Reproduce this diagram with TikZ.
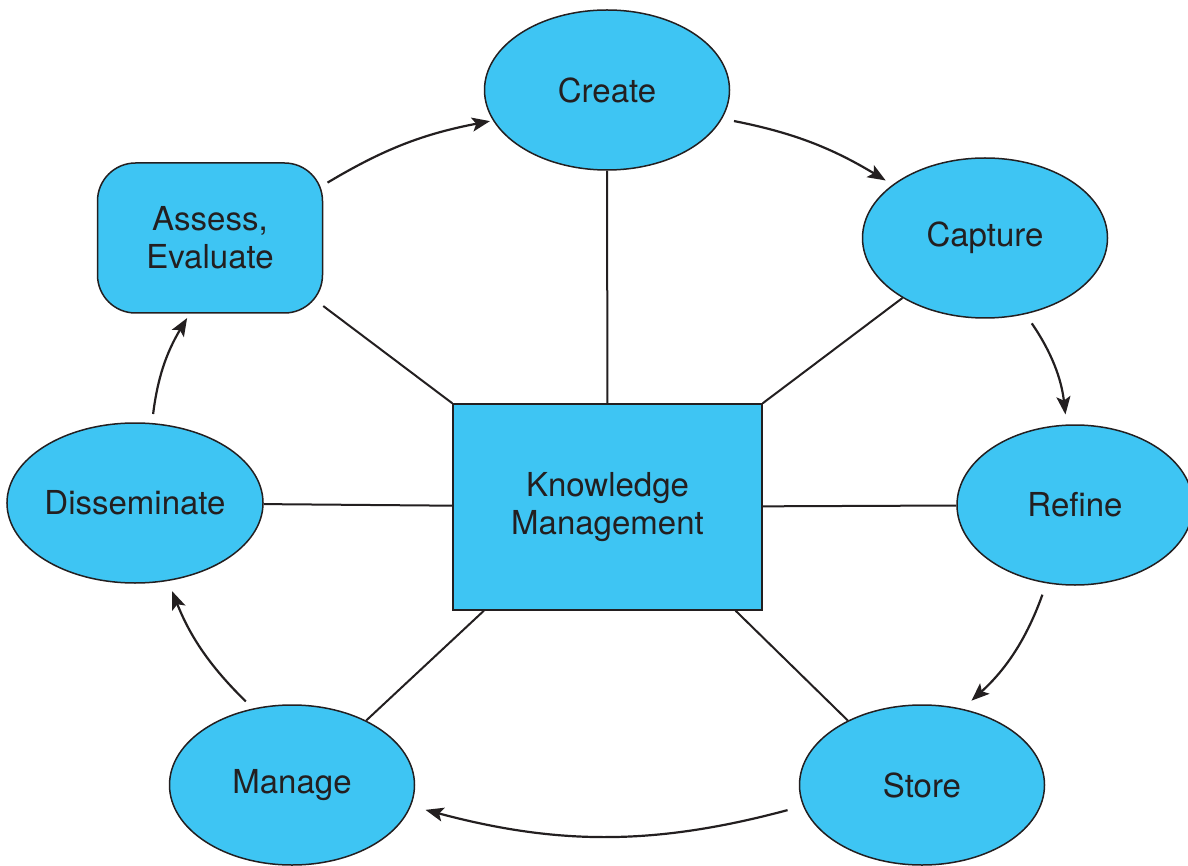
\documentclass[tikz,border=0pt]{standalone}
\usepackage{fontspec}
\setmainfont{TeX Gyre Heros}
\usetikzlibrary{shapes.geometric,arrows.meta}
\definecolor{kmblue}{RGB}{62,197,243}
\definecolor{kmtext}{RGB}{35,31,32}
\begin{document}
\begin{tikzpicture}[x=1pt,y=1pt,
  every node/.style={text=kmtext,font=\fontsize{33}{38}\selectfont,align=center},
  oval/.style={ellipse,draw=kmtext,line width=1.5pt,fill=kmblue,
    minimum width=245pt,minimum height=160pt,inner sep=0pt},
  roundbox/.style={rectangle,rounded corners=38pt,draw=kmtext,line width=1.5pt,fill=kmblue,
    minimum width=225pt,minimum height=150pt,inner sep=0pt},
  centrebox/.style={rectangle,draw=kmtext,line width=1.5pt,fill=kmblue,
    minimum width=309pt,minimum height=206pt,inner sep=0pt},
  conn/.style={draw=kmtext,line width=2pt},
  arr/.style={draw=kmtext,line width=2.2pt,-{Stealth[length=18pt,width=14pt,inset=4pt]}}]
\useasboundingbox (0,0) rectangle (1188,-866);
\node[oval] (create) at (607,-90) {Create};
\node[oval] (capture) at (985,-238) {Capture};
\node[oval,minimum width=236pt] (refine) at (1075,-505) {Refine};
\node[oval] (store) at (922,-785) {Store};
\node[oval] (manage) at (292,-785) {Manage};
\node[oval] (dissem) at (135,-503) {Disseminate};
\node[roundbox] (assess) at (210,-238) {Assess,\\Evaluate};
\node[centrebox] (km) at (607.5,-507) {Knowledge\\Management};
% spokes
\draw[conn] (create) -- (km);
\draw[conn] (capture.216) -- (km.north east);
\draw[conn] (km) -- (refine);
\draw[conn] (store.139) -- (km.-39);
\draw[conn] (manage.41) -- (km.220);
\draw[conn] (dissem) -- (km);
\draw[conn] (assess.-31) -- (km.north west);
% cycle arrows
\draw[arr,shorten <=5pt,shorten >=3pt] (assess.25) to[bend left=10] (create.195);
\draw[arr,shorten <=12pt,shorten >=8pt] (create.-14) to[bend left=10] (capture.150.7);
\draw[arr,shorten <=11pt,shorten >=10pt] (capture.-62) to[bend left=14] (refine.96);
\draw[arr,shorten <=12pt,shorten >=12pt] (refine.250) to[bend left=14] (store.62);
\draw[arr,shorten <=16pt,shorten >=15pt] (store.190) to[bend left=15] (manage.-10);
\draw[arr,shorten <=10pt,shorten >=11pt] (manage.117) to[bend left=12] (dissem.-67);
\draw[arr,shorten <=9pt,shorten >=5pt] (dissem.78) to[bend left=12] (assess.-105);
\end{tikzpicture}
\end{document}
